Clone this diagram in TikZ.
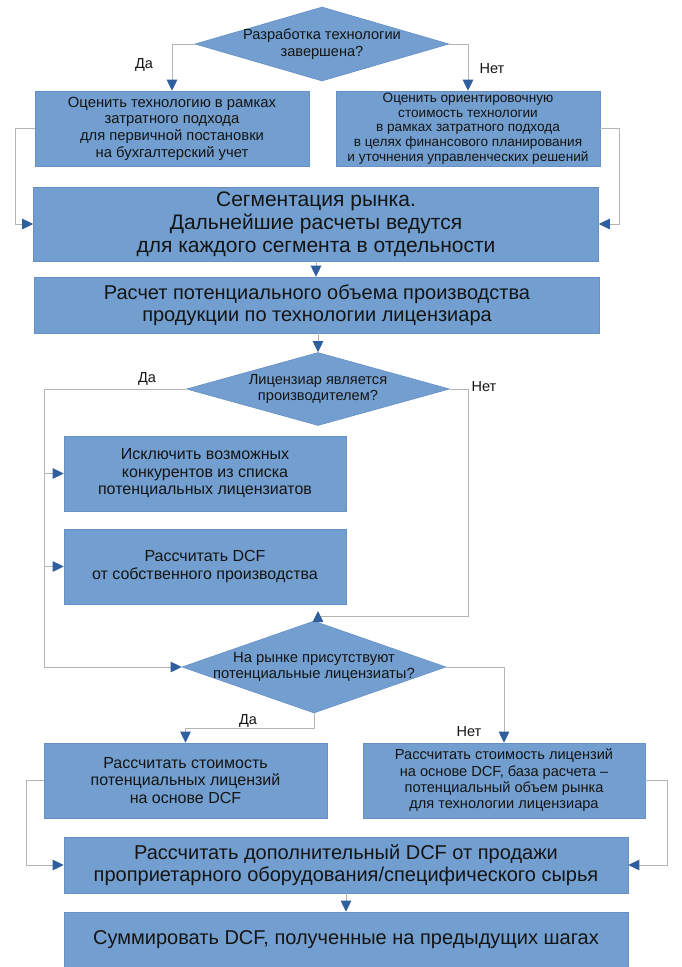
\documentclass[tikz,border=0pt]{standalone}
\usepackage{fontspec}
\setmainfont{Liberation Sans}
\usetikzlibrary{arrows.meta,shapes.geometric}
\definecolor{boxfill}{HTML}{729FCF}
\definecolor{boxline}{HTML}{6890C6}
\definecolor{tipblue}{HTML}{2F5F9F}
\definecolor{connline}{HTML}{B4B4B4}
\definecolor{txt}{HTML}{141414}
\newcommand{\fs}[2]{\fontsize{#1}{#2}\selectfont}
\begin{document}
\begin{tikzpicture}[x=1pt,y=-1pt,
  box/.style={draw=boxline, fill=boxfill, line width=0.6pt, inner sep=0pt, align=center, text=txt},
  dia/.style={diamond, draw=boxline, fill=boxfill, line width=0.6pt, inner sep=0pt},
  diatext/.style={align=center, text=txt, inner sep=0pt},
  conn/.style={draw=connline, line width=0.9pt, -{Triangle[length=11pt,width=10.5pt,color=tipblue]}},
  lab/.style={text=txt, inner sep=0pt, font=\fs{14.5}{16}}]
\useasboundingbox (0,0) rectangle (681,967);
\fill[white] (0,0) rectangle (681,967);

% diamond 1
\node[dia, minimum width=254pt, minimum height=74pt] (d1) at (322,44) {};
\node[diatext, font=\fs{14.6}{17}] (d1t) at (d1) {Разработка технологии\\завершена?};

% boxes row 1
\node[box, minimum width=274pt, minimum height=75pt, font=\fs{14.8}{16.7}] (b1) at (172,128.5)
  {Оценить технологию в рамках\\затратного подхода\\для первичной постановки\\на бухгалтерский учет};
\node[box, minimum width=264pt, minimum height=75pt, font=\fs{13.6}{14.6}] (b2) at (468,128.5)
  {Оценить ориентировочную\\стоимость технологии\\в рамках затратного подхода\\в целях финансового планирования\\и уточнения управленческих решений};

\node[box, minimum width=565pt, minimum height=74pt, font=\fs{21}{23}] (b3) at (316,224)
  {Сегментация рынка.\\Дальнейшие расчеты ведутся\\для каждого сегмента в отдельности};
\node[box, minimum width=565pt, minimum height=56pt, font=\fs{20}{21.5}] (b4) at (317,305)
  {Расчет потенциального объема производства\\продукции по технологии лицензиара};

% diamond 2
\node[dia, minimum width=263pt, minimum height=73pt] (d2) at (318,389) {};
\node[diatext, font=\fs{14.6}{15.7}] (d2t) at (d2) {Лицензиар является\\производителем?};

\node[box, minimum width=282pt, minimum height=75pt, font=\fs{16}{17.5}] (b5) at (205,473.5)
  {Исключить возможных\\конкурентов из списка\\потенциальных лицензиатов};
\node[box, minimum width=282pt, minimum height=75pt, font=\fs{16}{18}] (b6) at (205,566.5)
  {Рассчитать DCF\\от собственного производства};

% diamond 3
\node[dia, minimum width=264pt, minimum height=92pt] (d3) at (314,667) {};
\node[diatext, font=\fs{14.8}{16.7}] (d3t) at (d3) {На рынке присутствуют\\потенциальные лицензиаты?};

\node[box, minimum width=283pt, minimum height=75pt, font=\fs{16}{17.5}] (b7) at (185.5,780.5)
  {Рассчитать стоимость\\потенциальных лицензий\\на основе DCF};
\node[box, minimum width=282pt, minimum height=75pt, font=\fs{14.6}{16.3}] (b8) at (504,780.5)
  {Рассчитать стоимость лицензий\\на основе DCF, база расчета –\\потенциальный объем рынка\\для технологии лицензиара};

\node[box, minimum width=564pt, minimum height=56pt, font=\fs{20}{22}] (b9) at (346,865)
  {Рассчитать дополнительный DCF от продажи\\проприетарного оборудования/специфического сырья};
\node[box, minimum width=564pt, minimum height=56pt, font=\fs{20}{23}] (b10) at (346,940)
  {Суммировать DCF, полученные на предыдущих шагах};

% connectors
\draw[conn] (d1.west) -| (b1.north);
\draw[conn] (d1.east) -| (b2.north);
\node[lab] (l1) at (144,65) {Да};
\node[lab] (l2) at (492,69) {Нет};

\coordinate (c1) at (15,0);
\coordinate (c2) at (619,0);
\draw[conn] (b1.west) -- (b1.west -| c1) |- (b3.west);
\draw[conn] (b2.east) -- (b2.east -| c2) |- (b3.east);
\draw[conn] (b3.south) -- (b3.south |- b4.north);
\draw[conn] (b4.south -| d2.north) -- (d2.north);

\coordinate (c3) at (44,0);
\draw[conn] (d2.west) -- (d2.west -| c3) |- (d3.west);
\draw[conn] (b5.west -| c3) -- (b5.west);
\draw[conn] (b6.west -| c3) -- (b6.west);
\node[lab] (l3) at (147,379) {Да};

\coordinate (c4) at (468,616);
\coordinate (c6) at (318,611);
\draw[conn] (d2.east) -| (c4) -- (c4 -| c6) -- (c6);
\node[lab] (l4) at (484,387) {Нет};

\coordinate (c7) at (0,728);
\draw[conn] (d3.south) -- (d3.south |- c7) -| (b7.north);
\node[lab] (l5) at (248,721) {Да};
\draw[conn] (d3.east) -| (b8.north);
\node[lab] (l6) at (469,732) {Нет};

\coordinate (c8) at (26,0);
\coordinate (c9) at (667,0);
\draw[conn] (b7.west) -- (b7.west -| c8) |- (b9.west);
\draw[conn] (b8.east) -- (b8.east -| c9) |- (b9.east);
\draw[conn] (b9.south) -- (b10.north);
\end{tikzpicture}
\end{document}
